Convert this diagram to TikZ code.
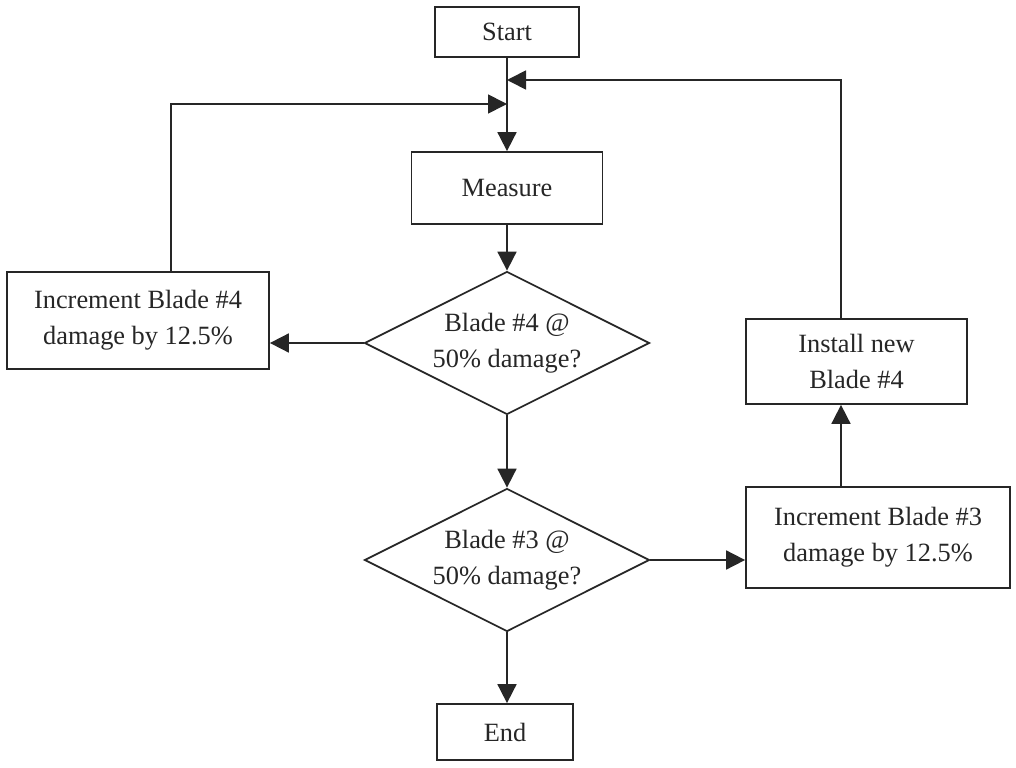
\documentclass[tikz,border=0pt]{standalone}
\usepackage{fontspec}
\setmainfont{Liberation Serif}
\usetikzlibrary{arrows.meta, shapes.geometric}

\begin{document}
\begin{tikzpicture}[
    >={Triangle[length=0.38cm, width=0.38cm]}, % Filled arrow heads
    every node/.style={font=\fontsize{15}{20.5}\selectfont, align=center, text=black!85}, % Text style
    box/.style={draw=black!85, line width=1pt, inner sep=0pt}, % Process boxes
    decision/.style={diamond, aspect=2, draw=black!85, line width=1pt, inner sep=0pt,
        minimum width=5.7cm, minimum height=2.86cm}, % Decision diamonds
    flow/.style={->, draw=black!85, line width=1pt} % Connectors
]

    % Page area
    \fill[white] (0,0) rectangle (20.32,-15.36);
    \useasboundingbox (0,0) rectangle (20.32,-15.36);

    % Main column
    \node[box, minimum width=2.88cm, minimum height=1cm] (start) at (10.14,-0.64) {Start};
    \node[box, minimum width=3.82cm, minimum height=1.44cm] (measure) at (10.14,-3.76) {Measure};
    \node[decision] (check4) at (10.14,-6.86) {Blade \#4 @\\50\% damage?};
    \node[decision] (check3) at (10.14,-11.2) {Blade \#3 @\\50\% damage?};
    \node[box, minimum width=2.72cm, minimum height=1.12cm] (finish) at (10.1,-14.64) {End};

    % Side boxes
    \node[box, minimum width=5.24cm, minimum height=1.94cm] (inc4) at (2.76,-6.41) {Increment Blade \#4\\damage by 12.5\%};
    \node[box, minimum width=4.42cm, minimum height=1.7cm] (install) at (17.13,-7.23) {Install new\\Blade \#4};
    \node[box, minimum width=5.28cm, minimum height=2.02cm] (inc3) at (17.56,-10.75) {Increment Blade \#3\\damage by 12.5\%};

    % Return points on the main line
    \coordinate (joinR) at (10.14,-1.6);
    \coordinate (joinL) at (10.14,-2.08);
    \coordinate (riser) at (16.82,-1.6); % Right loop corner
    \coordinate (climb) at (3.42,-2.08); % Left loop corner

    % Main flow
    \draw[flow] (start) -- (measure);
    \draw[flow] (measure) -- (check4);
    \draw[flow] (check4) -- (check3);
    \draw[flow] (check3.south) -- (check3.south |- finish.north);

    % Branches
    \draw[flow] (check4.west) -- (check4.west -| inc4.east);
    \draw[flow] (check3.east) -- (check3.east -| inc3.west);
    \draw[flow] (riser |- inc3.north) -- (riser |- install.south);

    % Loops back to the main line
    \draw[flow] (riser |- install.north) -- (riser) -- (joinR);
    \draw[flow] (climb |- inc4.north) -- (climb) -- (joinL);

\end{tikzpicture}
\end{document}
